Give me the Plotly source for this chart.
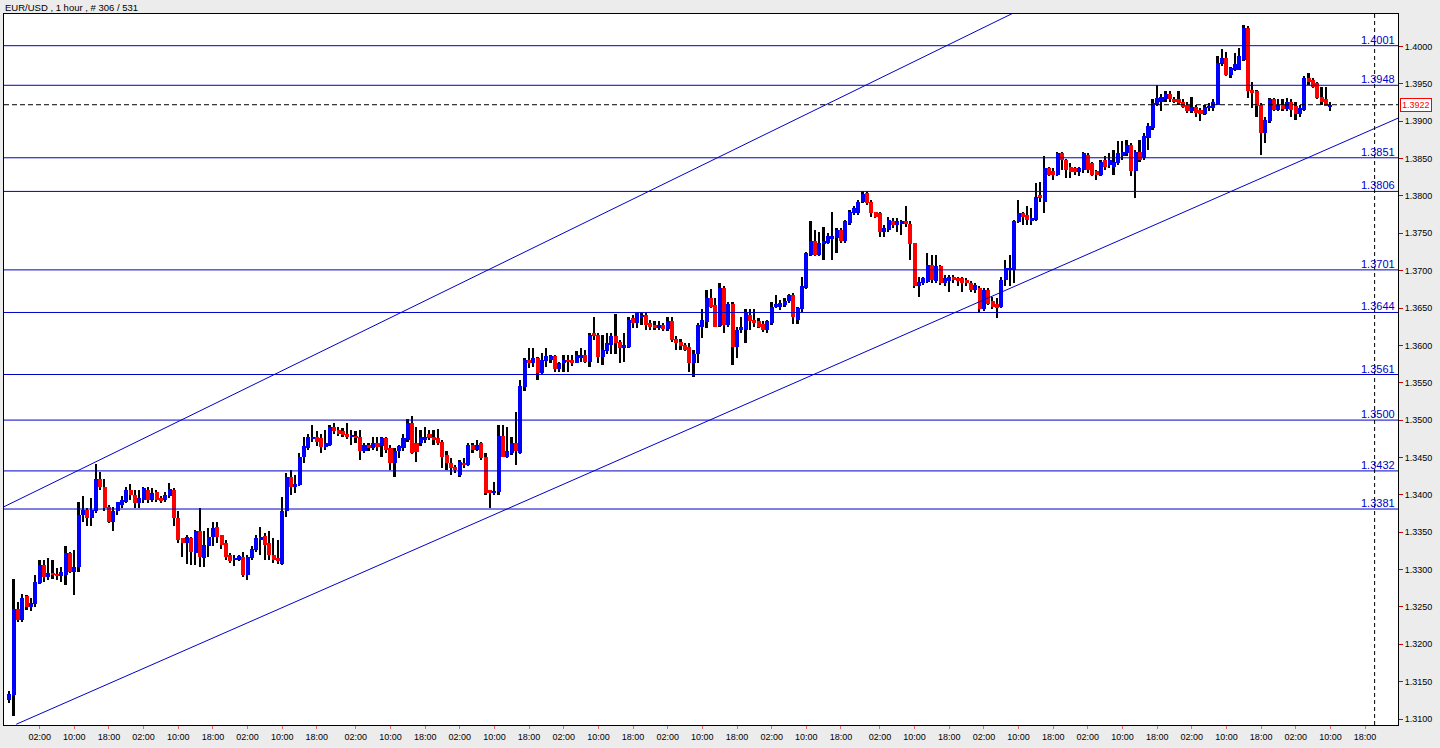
import plotly.graph_objects as go

title_text = "EUR/USD , 1 hour , # 306 / 531"

opens = [
    1.3125, 1.3132, 1.3247, 1.3233, 1.3264, 1.3250, 1.3254, 1.3282, 1.3306, 1.3290,
    1.3295, 1.3294, 1.3291, 1.3293, 1.3322, 1.3297, 1.3304, 1.3373, 1.3380, 1.3369,
    1.3378, 1.3421, 1.3411, 1.3384, 1.3364, 1.3378, 1.3387, 1.3391, 1.3407, 1.3400,
    1.3389, 1.3393, 1.3407, 1.3393, 1.3404, 1.3396, 1.3393, 1.3398, 1.3407, 1.3369,
    1.3342, 1.3335, 1.3342, 1.3322, 1.3351, 1.3315, 1.3331, 1.3344, 1.3357, 1.3346,
    1.3335, 1.3320, 1.3313, 1.3313, 1.3317, 1.3293, 1.3315, 1.3326, 1.3340, 1.3345,
    1.3335, 1.3320, 1.3315, 1.3308, 1.3378, 1.3424, 1.3411, 1.3413, 1.3451, 1.3463,
    1.3476, 1.3478, 1.3476, 1.3464, 1.3467, 1.3491, 1.3487, 1.3485, 1.3481, 1.3477,
    1.3478, 1.3478, 1.3458, 1.3467, 1.3462, 1.3470, 1.3465, 1.3476, 1.3462, 1.3443,
    1.3459, 1.3463, 1.3473, 1.3496, 1.3469, 1.3469, 1.3473, 1.3481, 1.3478, 1.3476,
    1.3471, 1.3453, 1.3442, 1.3437, 1.3427, 1.3443, 1.3440, 1.3467, 1.3460, 1.3470,
    1.3451, 1.3407, 1.3402, 1.3404, 1.3479, 1.3451, 1.3456, 1.3469, 1.3456, 1.3544,
    1.3581, 1.3576, 1.3583, 1.3563, 1.3579, 1.3581, 1.3586, 1.3568, 1.3576, 1.3581,
    1.3581, 1.3577, 1.3583, 1.3587, 1.3578, 1.3616, 1.3614, 1.3585, 1.3592, 1.3601,
    1.3612, 1.3605, 1.3596, 1.3598, 1.3636, 1.3630, 1.3639, 1.3641, 1.3630, 1.3627,
    1.3623, 1.3627, 1.3622, 1.3632, 1.3609, 1.3605, 1.3601, 1.3598, 1.3576, 1.3589,
    1.3625, 1.3631, 1.3663, 1.3654, 1.3626, 1.3677, 1.3627, 1.3656, 1.3598, 1.3621,
    1.3620, 1.3641, 1.3634, 1.3632, 1.3628, 1.3621, 1.3630, 1.3652, 1.3652, 1.3654,
    1.3659, 1.3668, 1.3634, 1.3648, 1.3677, 1.3721, 1.3739, 1.3721, 1.3736, 1.3737,
    1.3742, 1.3743, 1.3755, 1.3739, 1.3764, 1.3777, 1.3777, 1.3792, 1.3804, 1.3792,
    1.3779, 1.3777, 1.3752, 1.3755, 1.3766, 1.3761, 1.3763, 1.3766, 1.3763, 1.3737,
    1.3679, 1.3684, 1.3685, 1.3708, 1.3686, 1.3706, 1.3683, 1.3686, 1.3692, 1.3690,
    1.3690, 1.3688, 1.3683, 1.3674, 1.3677, 1.3648, 1.3674, 1.3659, 1.3656, 1.3652,
    1.3688, 1.3701, 1.3701, 1.3765, 1.3777, 1.3774, 1.3766, 1.3768, 1.3801, 1.3792,
    1.3837, 1.3833, 1.3828, 1.3857, 1.3848, 1.3839, 1.3837, 1.3832, 1.3835, 1.3855,
    1.3844, 1.3833, 1.3828, 1.3848, 1.3841, 1.3839, 1.3844, 1.3853, 1.3857, 1.3868,
    1.3833, 1.3859, 1.3851, 1.3877, 1.3891, 1.3922, 1.3926, 1.3929, 1.3937, 1.3930,
    1.3929, 1.3926, 1.3922, 1.3913, 1.3919, 1.3915, 1.3910, 1.3917, 1.3917, 1.3922,
    1.3976, 1.3984, 1.3962, 1.3969, 1.3969, 1.3982, 1.4025, 1.3942, 1.3940, 1.3922,
    1.3884, 1.3900, 1.3929, 1.3915, 1.3922, 1.3916, 1.3926, 1.3920, 1.3909, 1.3915,
    1.3958, 1.3955, 1.3951, 1.3933, 1.3929, 1.3920,
]

highs = [
    1.3137, 1.3287, 1.3257, 1.3267, 1.3266, 1.3262, 1.3293, 1.3313, 1.3313, 1.3315,
    1.3313, 1.3302, 1.3304, 1.3331, 1.3324, 1.3326, 1.3391, 1.3398, 1.3382, 1.3396,
    1.3441, 1.3431, 1.3421, 1.3386, 1.3384, 1.3391, 1.3399, 1.3411, 1.3414, 1.3407,
    1.3407, 1.3411, 1.3411, 1.3409, 1.3407, 1.3399, 1.3404, 1.3416, 1.3409, 1.3378,
    1.3342, 1.3346, 1.3344, 1.3353, 1.3382, 1.3351, 1.3355, 1.3364, 1.3364, 1.3346,
    1.3340, 1.3322, 1.3320, 1.3320, 1.3324, 1.3320, 1.3331, 1.3346, 1.3357, 1.3349,
    1.3351, 1.3342, 1.3340, 1.3397, 1.3429, 1.3433, 1.3426, 1.3456, 1.3478, 1.3482,
    1.3494, 1.3485, 1.3482, 1.3487, 1.3494, 1.3496, 1.3491, 1.3490, 1.3496, 1.3487,
    1.3485, 1.3487, 1.3469, 1.3469, 1.3477, 1.3478, 1.3478, 1.3478, 1.3467, 1.3462,
    1.3467, 1.3481, 1.3501, 1.3506, 1.3491, 1.3487, 1.3491, 1.3487, 1.3487, 1.3488,
    1.3473, 1.3458, 1.3449, 1.3440, 1.3447, 1.3449, 1.3469, 1.3469, 1.3473, 1.3471,
    1.3456, 1.3407, 1.3417, 1.3494, 1.3494, 1.3491, 1.3478, 1.3511, 1.3554, 1.3583,
    1.3596, 1.3596, 1.3585, 1.3590, 1.3596, 1.3587, 1.3587, 1.3578, 1.3587, 1.3587,
    1.3587, 1.3592, 1.3596, 1.3594, 1.3616, 1.3638, 1.3616, 1.3614, 1.3616, 1.3616,
    1.3642, 1.3607, 1.3616, 1.3638, 1.3641, 1.3645, 1.3645, 1.3643, 1.3634, 1.3632,
    1.3632, 1.3630, 1.3638, 1.3638, 1.3612, 1.3609, 1.3603, 1.3603, 1.3594, 1.3630,
    1.3648, 1.3674, 1.3676, 1.3663, 1.3684, 1.3679, 1.3658, 1.3658, 1.3625, 1.3638,
    1.3648, 1.3648, 1.3648, 1.3636, 1.3632, 1.3634, 1.3658, 1.3668, 1.3661, 1.3663,
    1.3669, 1.3670, 1.3652, 1.3692, 1.3725, 1.3766, 1.3755, 1.3752, 1.3759, 1.3750,
    1.3779, 1.3757, 1.3757, 1.3768, 1.3781, 1.3786, 1.3795, 1.3806, 1.3806, 1.3795,
    1.3779, 1.3779, 1.3761, 1.3772, 1.3770, 1.3770, 1.3768, 1.3786, 1.3766, 1.3737,
    1.3692, 1.3692, 1.3723, 1.3721, 1.3721, 1.3708, 1.3694, 1.3694, 1.3694, 1.3692,
    1.3692, 1.3690, 1.3686, 1.3683, 1.3679, 1.3677, 1.3677, 1.3665, 1.3663, 1.3692,
    1.3714, 1.3721, 1.3768, 1.3795, 1.3779, 1.3786, 1.3784, 1.3817, 1.3819, 1.3853,
    1.3839, 1.3837, 1.3859, 1.3859, 1.3850, 1.3844, 1.3839, 1.3839, 1.3859, 1.3857,
    1.3846, 1.3835, 1.3848, 1.3853, 1.3857, 1.3862, 1.3873, 1.3873, 1.3875, 1.3871,
    1.3862, 1.3875, 1.3884, 1.3897, 1.3929, 1.3949, 1.3937, 1.3940, 1.3940, 1.3933,
    1.3940, 1.3929, 1.3926, 1.3932, 1.3922, 1.3917, 1.3922, 1.3924, 1.3929, 1.3987,
    1.3996, 1.3993, 1.3973, 1.3991, 1.3998, 1.4029, 1.4027, 1.3953, 1.3942, 1.3924,
    1.3906, 1.3931, 1.3931, 1.3929, 1.3929, 1.3931, 1.3929, 1.3926, 1.3922, 1.3960,
    1.3964, 1.3958, 1.3953, 1.3946, 1.3946, 1.3926,
]

lows = [
    1.3121, 1.3104, 1.3230, 1.3230, 1.3246, 1.3244, 1.3250, 1.3281, 1.3284, 1.3286,
    1.3288, 1.3286, 1.3284, 1.3279, 1.3295, 1.3266, 1.3297, 1.3363, 1.3358, 1.3358,
    1.3376, 1.3407, 1.3378, 1.3362, 1.3351, 1.3373, 1.3383, 1.3389, 1.3393, 1.3382,
    1.3382, 1.3389, 1.3389, 1.3391, 1.3391, 1.3389, 1.3391, 1.3396, 1.3358, 1.3335,
    1.3317, 1.3308, 1.3306, 1.3306, 1.3304, 1.3304, 1.3317, 1.3331, 1.3335, 1.3328,
    1.3313, 1.3309, 1.3305, 1.3311, 1.3290, 1.3286, 1.3313, 1.3324, 1.3320, 1.3313,
    1.3313, 1.3309, 1.3308, 1.3306, 1.3371, 1.3400, 1.3403, 1.3412, 1.3443, 1.3460,
    1.3471, 1.3465, 1.3456, 1.3460, 1.3466, 1.3482, 1.3479, 1.3478, 1.3475, 1.3467,
    1.3470, 1.3446, 1.3456, 1.3458, 1.3460, 1.3458, 1.3451, 1.3456, 1.3433, 1.3424,
    1.3449, 1.3458, 1.3471, 1.3455, 1.3444, 1.3466, 1.3469, 1.3473, 1.3467, 1.3467,
    1.3436, 1.3433, 1.3427, 1.3429, 1.3424, 1.3436, 1.3438, 1.3456, 1.3458, 1.3447,
    1.3400, 1.3383, 1.3400, 1.3400, 1.3450, 1.3449, 1.3453, 1.3440, 1.3455, 1.3539,
    1.3570, 1.3571, 1.3554, 1.3560, 1.3571, 1.3576, 1.3565, 1.3565, 1.3565, 1.3565,
    1.3572, 1.3576, 1.3578, 1.3576, 1.3571, 1.3607, 1.3576, 1.3574, 1.3589, 1.3589,
    1.3589, 1.3577, 1.3578, 1.3597, 1.3623, 1.3623, 1.3627, 1.3621, 1.3621, 1.3621,
    1.3621, 1.3619, 1.3619, 1.3605, 1.3594, 1.3594, 1.3592, 1.3565, 1.3558, 1.3576,
    1.3610, 1.3623, 1.3650, 1.3624, 1.3624, 1.3616, 1.3625, 1.3574, 1.3583, 1.3616,
    1.3603, 1.3621, 1.3625, 1.3623, 1.3618, 1.3616, 1.3627, 1.3650, 1.3647, 1.3652,
    1.3657, 1.3629, 1.3629, 1.3645, 1.3676, 1.3719, 1.3719, 1.3719, 1.3714, 1.3735,
    1.3714, 1.3723, 1.3737, 1.3737, 1.3761, 1.3775, 1.3775, 1.3790, 1.3788, 1.3772,
    1.3770, 1.3745, 1.3745, 1.3752, 1.3757, 1.3752, 1.3748, 1.3759, 1.3714, 1.3677,
    1.3665, 1.3681, 1.3683, 1.3683, 1.3683, 1.3681, 1.3679, 1.3672, 1.3683, 1.3679,
    1.3672, 1.3679, 1.3672, 1.3670, 1.3643, 1.3646, 1.3654, 1.3648, 1.3636, 1.3650,
    1.3679, 1.3679, 1.3683, 1.3764, 1.3761, 1.3761, 1.3761, 1.3767, 1.3792, 1.3777,
    1.3826, 1.3821, 1.3826, 1.3835, 1.3824, 1.3824, 1.3828, 1.3826, 1.3830, 1.3830,
    1.3826, 1.3821, 1.3826, 1.3835, 1.3837, 1.3828, 1.3841, 1.3848, 1.3853, 1.3826,
    1.3797, 1.3846, 1.3848, 1.3862, 1.3888, 1.3920, 1.3913, 1.3926, 1.3926, 1.3924,
    1.3922, 1.3917, 1.3911, 1.3911, 1.3906, 1.3900, 1.3908, 1.3913, 1.3914, 1.3921,
    1.3974, 1.3960, 1.3958, 1.3967, 1.3968, 1.3980, 1.3931, 1.3918, 1.3906, 1.3855,
    1.3871, 1.3897, 1.3913, 1.3913, 1.3913, 1.3914, 1.3906, 1.3902, 1.3906, 1.3913,
    1.3949, 1.3944, 1.3929, 1.3922, 1.3920, 1.3913,
]

closes = [
    1.3134, 1.3247, 1.3233, 1.3262, 1.3250, 1.3255, 1.3284, 1.3306, 1.3290, 1.3295,
    1.3293, 1.3291, 1.3297, 1.3322, 1.3297, 1.3304, 1.3373, 1.3380, 1.3369, 1.3380,
    1.3421, 1.3411, 1.3382, 1.3364, 1.3378, 1.3390, 1.3393, 1.3407, 1.3400, 1.3389,
    1.3396, 1.3409, 1.3393, 1.3402, 1.3393, 1.3392, 1.3400, 1.3408, 1.3369, 1.3340,
    1.3335, 1.3344, 1.3324, 1.3351, 1.3317, 1.3333, 1.3344, 1.3355, 1.3344, 1.3333,
    1.3317, 1.3311, 1.3316, 1.3318, 1.3293, 1.3317, 1.3328, 1.3342, 1.3344, 1.3333,
    1.3320, 1.3313, 1.3311, 1.3378, 1.3424, 1.3411, 1.3415, 1.3451, 1.3465, 1.3477,
    1.3478, 1.3471, 1.3464, 1.3469, 1.3491, 1.3486, 1.3482, 1.3480, 1.3477, 1.3480,
    1.3477, 1.3458, 1.3467, 1.3462, 1.3470, 1.3464, 1.3476, 1.3460, 1.3442, 1.3459,
    1.3465, 1.3476, 1.3496, 1.3456, 1.3457, 1.3477, 1.3478, 1.3476, 1.3473, 1.3469,
    1.3451, 1.3442, 1.3436, 1.3433, 1.3444, 1.3440, 1.3467, 1.3460, 1.3467, 1.3449,
    1.3402, 1.3402, 1.3405, 1.3479, 1.3451, 1.3458, 1.3469, 1.3459, 1.3545, 1.3581,
    1.3576, 1.3583, 1.3563, 1.3581, 1.3586, 1.3586, 1.3568, 1.3576, 1.3581, 1.3578,
    1.3576, 1.3587, 1.3587, 1.3578, 1.3614, 1.3612, 1.3585, 1.3594, 1.3603, 1.3612,
    1.3603, 1.3596, 1.3601, 1.3634, 1.3630, 1.3643, 1.3641, 1.3627, 1.3625, 1.3623,
    1.3627, 1.3622, 1.3632, 1.3607, 1.3603, 1.3599, 1.3594, 1.3576, 1.3589, 1.3627,
    1.3634, 1.3663, 1.3652, 1.3625, 1.3677, 1.3627, 1.3656, 1.3598, 1.3621, 1.3625,
    1.3643, 1.3632, 1.3630, 1.3625, 1.3621, 1.3632, 1.3652, 1.3656, 1.3657, 1.3659,
    1.3668, 1.3638, 1.3650, 1.3679, 1.3723, 1.3739, 1.3721, 1.3737, 1.3739, 1.3746,
    1.3746, 1.3755, 1.3739, 1.3766, 1.3779, 1.3784, 1.3792, 1.3803, 1.3790, 1.3777,
    1.3772, 1.3752, 1.3757, 1.3768, 1.3761, 1.3766, 1.3766, 1.3763, 1.3735, 1.3679,
    1.3685, 1.3690, 1.3708, 1.3688, 1.3706, 1.3683, 1.3690, 1.3692, 1.3688, 1.3686,
    1.3683, 1.3683, 1.3674, 1.3681, 1.3648, 1.3674, 1.3656, 1.3652, 1.3650, 1.3688,
    1.3703, 1.3703, 1.3766, 1.3777, 1.3772, 1.3768, 1.3770, 1.3799, 1.3797, 1.3837,
    1.3828, 1.3828, 1.3857, 1.3848, 1.3835, 1.3832, 1.3832, 1.3837, 1.3857, 1.3835,
    1.3828, 1.3828, 1.3846, 1.3839, 1.3848, 1.3846, 1.3857, 1.3859, 1.3868, 1.3833,
    1.3859, 1.3848, 1.3880, 1.3893, 1.3924, 1.3931, 1.3932, 1.3937, 1.3929, 1.3925,
    1.3924, 1.3919, 1.3913, 1.3919, 1.3911, 1.3910, 1.3919, 1.3920, 1.3926, 1.3978,
    1.3984, 1.3962, 1.3971, 1.3976, 1.3987, 1.4025, 1.3940, 1.3938, 1.3920, 1.3884,
    1.3902, 1.3929, 1.3915, 1.3922, 1.3916, 1.3926, 1.3915, 1.3909, 1.3918, 1.3958,
    1.3953, 1.3946, 1.3931, 1.3926, 1.3920, 1.3922,
]

tick_idx = [7, 15, 23, 31, 39, 47, 55, 63, 71, 80, 88, 96, 104, 112, 120, 128, 136,
            144, 152, 160, 168, 176, 184, 192, 201, 209, 217, 225, 233, 241, 249,
            257, 265, 273, 281, 289, 297, 305, 313]
tick_labels = ["02:00", "10:00", "18:00"] * 13

level_prices = [1.4001, 1.3948, 1.3851, 1.3806, 1.3701, 1.3644, 1.3561, 1.3500, 1.3432, 1.3381]
level_labels = ["1.4001", "1.3948", "1.3851", "1.3806", "1.3701", "1.3644", "1.3561",
                "1.3500", "1.3432", "1.3381"]
current_price = 1.3922
current_label = "1.3922"

upper_channel_x = [-1.25, 240.0]
upper_channel_y = [1.3384, 1.4068]
lower_channel_x = [1.6, 320.6]
lower_channel_y = [1.3093, 1.3904]
separator_idx = 315.2

x_range = [-1.23, 320.6]
y_range = [1.30920, 1.40434]

BLUE = "#0000ff"
RED = "#ff0000"
LINE_BLUE = "#0000c8"
FONT = "Liberation Sans"

idx = list(range(len(opens)))

wick_len = [h - l for h, l in zip(highs, lows)]
bases = [min(o, c) for o, c in zip(opens, closes)]
heights = [max(abs(c - o), 0.00009) for o, c in zip(opens, closes)]
colors = [BLUE if c >= o else RED for o, c in zip(opens, closes)]

fig = go.Figure()
# wicks (drawn first so bodies sit on top)
fig.add_trace(go.Bar(x=idx, y=wick_len, base=lows, width=0.4,
                     marker=dict(color="black", line=dict(width=0)),
                     hoverinfo="skip", showlegend=False))
# bodies
fig.add_trace(go.Bar(x=idx, y=heights, base=bases, width=0.93,
                     marker=dict(color=colors, line=dict(width=0)),
                     showlegend=False))
fig.add_trace(go.Scatter(x=upper_channel_x, y=upper_channel_y, mode="lines",
                         line=dict(color=LINE_BLUE, width=1), showlegend=False, hoverinfo="skip"))
fig.add_trace(go.Scatter(x=lower_channel_x, y=lower_channel_y, mode="lines",
                         line=dict(color=LINE_BLUE, width=1), showlegend=False, hoverinfo="skip"))

shapes = []
annotations = []
for p, lab in zip(level_prices, level_labels):
    shapes.append(dict(type="line", xref="paper", x0=0, x1=1, yref="y", y0=p, y1=p,
                       line=dict(color=LINE_BLUE, width=1), layer="above"))
    annotations.append(dict(xref="paper", x=1, xanchor="right", xshift=-1,
                            yref="y", y=p, yanchor="bottom", yshift=-2,
                            text=lab, showarrow=False,
                            font=dict(family=FONT, size=11, color=LINE_BLUE)))

shapes.append(dict(type="line", xref="paper", x0=0, x1=1, yref="y",
                   y0=current_price, y1=current_price,
                   line=dict(color="black", width=1, dash="5px,3px"), layer="above"))
shapes.append(dict(type="line", xref="x", x0=separator_idx, x1=separator_idx,
                   yref="paper", y0=0, y1=1,
                   line=dict(color="black", width=1, dash="4px,3px"), layer="above"))

annotations.append(dict(xref="paper", x=1, xanchor="left", xshift=2,
                        yref="y", y=current_price, yanchor="middle",
                        text=current_label, showarrow=False,
                        bordercolor=RED, borderwidth=1, borderpad=1, bgcolor="white",
                        font=dict(family=FONT, size=9, color=RED)))
annotations.append(dict(xref="paper", x=0, xanchor="left", xshift=-1,
                        yref="paper", y=1, yanchor="bottom", yshift=-1,
                        text=title_text, showarrow=False,
                        font=dict(family=FONT, size=9.5, color="black")))

fig.update_layout(
    width=1440, height=748,
    margin=dict(l=4, r=42, t=14, b=23),
    paper_bgcolor="#ececec",
    plot_bgcolor="white",
    shapes=shapes,
    annotations=annotations,
    barmode="overlay",
    bargap=0,
    showlegend=False,
    xaxis=dict(range=x_range, tickmode="array", tickvals=tick_idx, ticktext=tick_labels,
               ticks="outside", ticklen=3, tickcolor="#e07070", showgrid=False,
               zeroline=False, showline=True, linecolor="black", linewidth=1, mirror=True,
               tickfont=dict(family=FONT, size=9, color="black")),
    yaxis=dict(range=y_range, side="right", tick0=1.31, dtick=0.005, tickformat=".4f",
               ticks="outside", ticklen=4, tickcolor="#d00000", showgrid=False,
               zeroline=False, showline=True, linecolor="black", linewidth=1, mirror=True,
               tickfont=dict(family=FONT, size=9, color="black")),
)

fig.write_html("out.html", config={"displayModeBar": False},
               post_script="document.body.style.margin='0px';document.body.style.overflow='hidden';")
